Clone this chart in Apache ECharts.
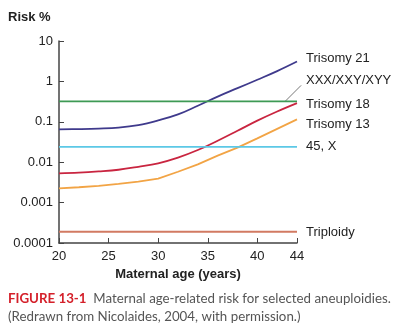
<!DOCTYPE html>
<html>
<head>
<meta charset="utf-8">
<script src="https://cdn.jsdelivr.net/npm/echarts@6/dist/echarts.min.js"></script>
<style>html,body{margin:0;padding:0;background:#fff;}#c{width:413px;height:329px;}</style>
</head>
<body>
<div id="c"></div>
<script>
// Data (risk %, log scale)
var ages = [20, 22, 24, 26, 28, 30, 32, 34, 36, 38, 40, 42, 44];
var trisomy21 = [0.065, 0.066, 0.068, 0.072, 0.083, 0.108, 0.152, 0.25, 0.42, 0.68, 1.1, 1.8, 3.1];
var trisomy18 = [0.0053, 0.0055, 0.0059, 0.0065, 0.0077, 0.0094, 0.013, 0.02, 0.034, 0.06, 0.107, 0.18, 0.29];
var trisomy13 = [0.00226, 0.0024, 0.0026, 0.0029, 0.0033, 0.0039, 0.0058, 0.0088, 0.0145, 0.023, 0.039, 0.067, 0.115];
var flatAges = [20, 44];
var xxx = [0.32, 0.32];
var monosomyX = [0.024, 0.024];
var triploidy = [0.00019, 0.00019];
var seriesNames = ['Trisomy 21', 'XXX/XXY/XYY', 'Trisomy 18', 'Trisomy 13', '45, X', 'Triploidy'];
var xTicks = [20, 25, 30, 35, 40, 44];
var yTicks = [0.0001, 0.001, 0.01, 0.1, 1, 10];

function pairs(xs, ys) { return xs.map(function (x, i) { return [x, ys[i]]; }); }

var chart = echarts.init(document.getElementById('c'), null, {renderer: 'canvas'});
var FONT = '"Liberation Sans", Arial, sans-serif';
function mk(name, data, color, smooth, dy) {
  return {
    name: name, type: 'line', data: data, smooth: smooth, symbol: 'none',
    lineStyle: {color: color, width: 1.8}, itemStyle: {color: color},
    endLabel: {show: true, formatter: '{a}', distance: 9, offset: [0, dy],
      color: '#222', fontSize: 13, fontFamily: FONT},
    emphasis: {disabled: true}, animation: false
  };
}
chart.setOption({
  animation: false,
  grid: {left: 59, right: 116, top: 41, bottom: 86},
  xAxis: {
    type: 'value', min: 20, max: 44, interval: 5,
    name: 'Maternal age (years)', nameLocation: 'middle', nameGap: 25,
    nameTextStyle: {fontWeight: 'bold', fontSize: 13, color: '#222', fontFamily: FONT},
    axisLine: {lineStyle: {color: '#444', width: 1.5}},
    axisTick: {inside: true, length: 5, lineStyle: {color: '#444', width: 1}},
    axisLabel: {color: '#222', fontSize: 13, margin: 7, fontFamily: FONT,
      formatter: function (v) { return xTicks.indexOf(v) >= 0 ? String(v) : ''; }},
    splitLine: {show: false}
  },
  yAxis: {
    type: 'log', logBase: 10, min: yTicks[0], max: yTicks[yTicks.length - 1],
    axisLine: {show: true, lineStyle: {color: '#444', width: 1.5}},
    axisTick: {show: true, inside: true, length: 5, lineStyle: {color: '#444', width: 1}},
    axisLabel: {color: '#222', fontSize: 13, margin: 6, fontFamily: FONT,
      formatter: function (v) { return String(+Number(v).toPrecision(1)); }},
    splitLine: {show: false}
  },
  series: [
    mk(seriesNames[0], pairs(ages, trisomy21), '#3f3a8c', 0.4, -3),
    mk(seriesNames[1], pairs(flatAges, xxx), '#3e9a55', false, -21),
    mk(seriesNames[2], pairs(ages, trisomy18), '#c92540', 0.4, 1),
    mk(seriesNames[3], pairs(ages, trisomy13), '#f2a445', false, 5),
    mk(seriesNames[4], pairs(flatAges, monosomyX), '#5cc8e6', false, 0),
    mk(seriesNames[5], pairs(flatAges, triploidy), '#d27a62', false, 1)
  ]
});

var p0 = chart.convertToPixel({gridIndex: 0}, [42.8, xxx[1]]);
chart.setOption({
  graphic: [
    {type: 'line', shape: {x1: p0[0], y1: p0[1], x2: p0[0] + 16, y2: p0[1] - 16},
      style: {stroke: '#777', lineWidth: 1}},
    {type: 'text', left: 8, top: 11,
      style: {text: 'Risk %', fontWeight: 'bold', fontSize: 13, fill: '#222', fontFamily: FONT}},
    {type: 'text', left: 8, top: 292,
      style: {text: '{b|FIGURE 13-1}  Maternal age-related risk for selected aneuploidies.',
        fontSize: 13.3, fill: '#555', fontFamily: 'Lato, sans-serif',
        rich: {b: {fontWeight: 'bold', fill: '#d4202a', fontSize: 13.3, fontFamily: 'Lato, sans-serif'}}}},
    {type: 'text', left: 8, top: 310,
      style: {text: '(Redrawn from Nicolaides, 2004, with permission.)',
        fontSize: 13.3, fill: '#555', fontFamily: 'Lato, sans-serif'}}
  ]
});
</script>
</body>
</html>
